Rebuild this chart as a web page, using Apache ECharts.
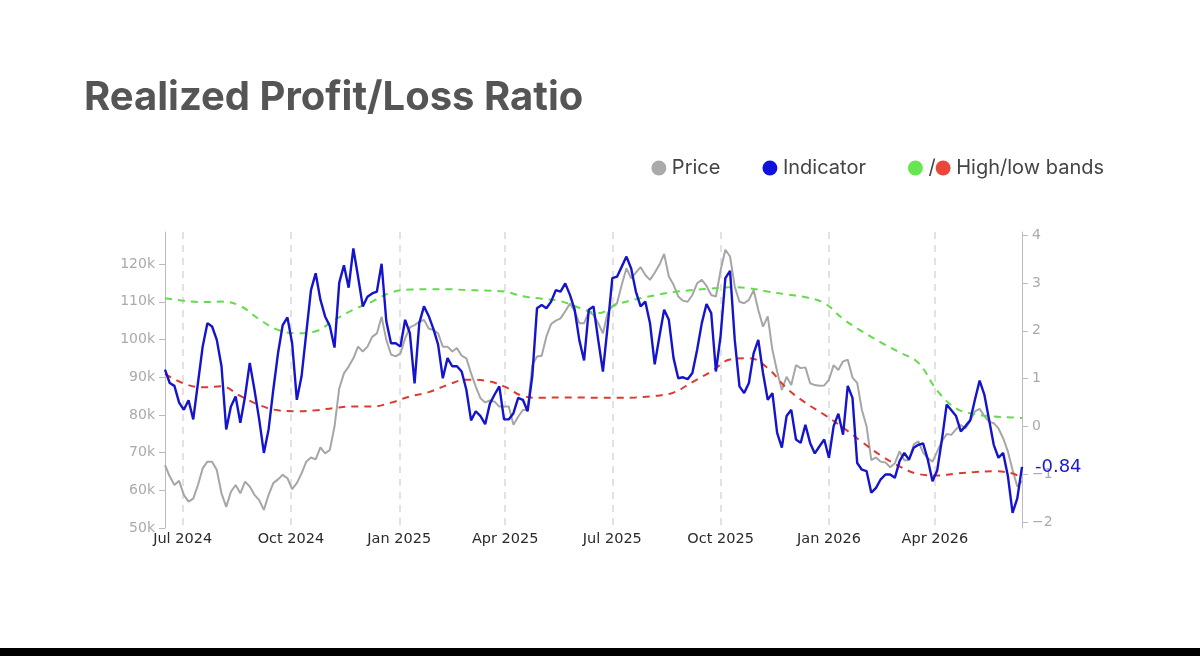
<!DOCTYPE html>
<html>
<head>
<meta charset="utf-8">
<title>Realized Profit/Loss Ratio</title>
<script src="https://cdn.jsdelivr.net/npm/echarts@6/dist/echarts.min.js"></script>
<style>
html, body { margin: 0; padding: 0; background: #fff; }
#main { width: 1200px; height: 656px; }
</style>
</head>
<body>
<div id="main"></div>
<script>
// one point every 4 days, starting 16 Jun 2024
var START = [2024, 5, 16];
var STEP_DAYS = 4;
var BAND_STEP_DAYS = 16;
var LAST_DAY = 728;

// BTC price, in thousands of USD (left axis)
var priceK = [
  66.7, 63.7, 61.4, 62.5, 58.8, 57.0, 57.8, 61.4, 65.8, 67.6,
  67.6, 65.4, 59.2, 55.6, 59.6, 61.4, 59.2, 62.3, 61.0, 58.8,
  57.4, 54.8, 58.8, 61.9, 62.9, 64.1, 63.2, 60.3, 61.9, 64.5,
  67.6, 68.7, 68.2, 71.4, 69.8, 70.7, 76.9, 87.0, 91.0, 92.8,
  95.0, 98.1, 96.8, 98.1, 100.7, 101.6, 106.0, 99.9, 96.0, 95.5,
  96.3, 100.3, 103.2, 103.8, 104.7, 105.2, 102.9, 102.5, 101.6, 98.1,
  98.1, 96.8, 97.7, 95.7, 95.0, 91.0, 87.5, 84.4, 83.3, 83.8,
  83.5, 82.2, 82.2, 82.2, 77.4, 79.5, 81.3, 81.3, 93.2, 95.5,
  95.7, 100.8, 104.1, 105.0, 105.6, 107.5, 109.5, 107.5, 104.3, 104.3,
  107.4, 106.5, 104.3, 101.6, 107.0, 108.9, 109.6, 114.5, 118.9, 116.2,
  117.7, 119.2, 117.1, 115.8, 117.7, 119.8, 122.7, 116.7, 114.5, 111.4,
  110.3, 110.0, 111.8, 114.9, 115.8, 114.2, 111.8, 111.4, 118.4, 123.8,
  122.0, 114.0, 110.0, 109.6, 110.5, 113.1, 107.8, 103.4, 106.1, 97.2,
  91.5, 86.6, 90.1, 87.9, 93.2, 92.4, 92.6, 88.4, 87.9, 87.7,
  87.8, 89.3, 93.2, 91.9, 94.2, 94.6, 89.9, 88.5, 81.3, 76.9,
  68.0, 68.7, 67.6, 67.4, 66.1, 67.2, 70.3, 68.0, 68.0, 72.1,
  73.0, 70.0, 68.5, 67.6, 70.3, 73.0, 74.9, 74.7, 76.2, 77.3,
  76.4, 78.5, 80.9, 81.6, 79.7, 78.2, 77.8, 76.4, 73.8, 70.3,
  65.4, 61.0, 62.5
];

// realized profit/loss ratio indicator (right axis)
var indicator = [
  1.19, 0.91, 0.85, 0.50, 0.35, 0.55, 0.15, 0.91, 1.67, 2.16,
  2.09, 1.81, 1.26, -0.06, 0.42, 0.63, 0.08, 0.63, 1.33, 0.77,
  0.15, -0.55, -0.06, 0.77, 1.53, 2.12, 2.28, 1.74, 0.56, 1.05,
  1.95, 2.85, 3.20, 2.65, 2.30, 2.10, 1.65, 3.00, 3.37, 2.90,
  3.72, 3.13, 2.51, 2.71, 2.78, 2.82, 3.40, 2.20, 1.74, 1.74,
  1.67, 2.23, 1.95, 0.90, 2.16, 2.51, 2.31, 2.04, 1.71, 1.01,
  1.43, 1.26, 1.26, 1.15, 0.77, 0.13, 0.32, 0.22, 0.05, 0.48,
  0.67, 0.84, 0.15, 0.15, 0.28, 0.60, 0.56, 0.32, 1.05, 2.47,
  2.54, 2.47, 2.61, 2.85, 2.82, 2.99, 2.75, 2.44, 1.80, 1.38,
  2.44, 2.51, 1.81, 1.15, 2.09, 3.10, 3.13, 3.34, 3.55, 3.30,
  2.82, 2.51, 2.61, 2.16, 1.30, 1.88, 2.44, 2.23, 1.43, 1.01,
  1.03, 0.99, 1.12, 1.60, 2.16, 2.56, 2.37, 1.15, 1.90, 3.10,
  3.25, 1.81, 0.84, 0.70, 0.91, 1.53, 1.81, 1.12, 0.56, 0.70,
  -0.13, -0.44, 0.22, 0.35, -0.27, -0.34, 0.04, -0.34, -0.56, -0.41,
  -0.27, -0.65, 0.01, 0.27, -0.17, 0.85, 0.60, -0.76, -0.90, -0.93,
  -1.38, -1.28, -1.10, -1.00, -1.00, -1.07, -0.72, -0.55, -0.69, -0.44,
  -0.38, -0.35, -0.69, -1.14, -0.91, -0.27, 0.46, 0.34, 0.22, -0.10,
  0.01, 0.13, 0.56, 0.96, 0.67, 0.15, -0.38, -0.65, -0.55, -1.03,
  -1.80, -1.50, -0.84
];

// high / low bands, one point every 16 days (last one on the final day)
var bandHigh = [
  2.68, 2.63, 2.60, 2.61, 2.52, 2.24, 2.02, 1.95, 1.99, 2.23,
  2.44, 2.61, 2.80, 2.86, 2.87, 2.87, 2.85, 2.84, 2.82, 2.72,
  2.67, 2.62, 2.48, 2.37, 2.55, 2.66, 2.74, 2.81, 2.85, 2.88,
  2.91, 2.89, 2.82, 2.76, 2.70, 2.58, 2.25, 1.99, 1.76, 1.55,
  1.33, 0.75, 0.38, 0.26, 0.21, 0.19, 0.18
];
var bandLow = [
  1.10, 0.90, 0.82, 0.84, 0.64, 0.45, 0.34, 0.32, 0.34, 0.39,
  0.42, 0.42, 0.50, 0.63, 0.72, 0.87, 0.98, 0.96, 0.84, 0.64,
  0.60, 0.61, 0.61, 0.60, 0.60, 0.61, 0.64, 0.71, 0.93, 1.15,
  1.40, 1.43, 1.22, 0.80, 0.50, 0.25, -0.02, -0.32, -0.60, -0.83,
  -0.99, -1.02, -0.98, -0.95, -0.93, -0.98, -1.07
];

var xTickDates = ['2024-07-01', '2024-10-01', '2025-01-01', '2025-04-01',
                  '2025-07-01', '2025-10-01', '2026-01-01', '2026-04-01'];
var leftTicks = [50, 60, 70, 80, 90, 100, 110, 120];
var rightTicks = [-2, -1, 0, 1, 2, 3, 4];
var MONTHS = ['Jan','Feb','Mar','Apr','May','Jun','Jul','Aug','Sep','Oct','Nov','Dec'];

function dayToTime(d) {
  return new Date(START[0], START[1], START[2] + d).getTime();
}
function parseDay(s) {
  var p = s.split('-');
  return new Date(+p[0], +p[1] - 1, +p[2]).getTime();
}
function pairs(values, step) {
  return values.map(function (v, i) {
    return [dayToTime(Math.min(i * step, LAST_DAY)), v];
  });
}

var xTicks = xTickDates.map(parseDay);
var FONT_AXIS = 'DejaVu Sans';
var FONT_UI = 'Inter';

var myChart = echarts.init(document.getElementById('main'));

var option = {
  animation: false,
  backgroundColor: '#ffffff',
  title: {
    text: 'Realized Profit/Loss Ratio',
    left: 79,
    top: 73,
    textStyle: { fontFamily: FONT_UI, fontWeight: 'bold', fontSize: 40, color: '#555555' }
  },
  legend: {
    top: 153,
    right: 91,
    icon: 'circle',
    itemWidth: 16,
    itemHeight: 15,
    itemGap: 42,
    itemStyle: { borderWidth: 0 },
    textStyle: {
      fontFamily: FONT_UI, fontSize: 20, color: '#444444',
      rich: { r: { width: 15, height: 15, borderRadius: 7.5, backgroundColor: '#e8473a' } }
    },
    data: ['Price', 'Indicator', 'High band'],
    formatter: function (name) {
      return name === 'High band' ? '/{r| } High/low bands' : name;
    }
  },
  graphic: [{
    type: 'rect', left: 0, top: 648, silent: true,
    shape: { width: 1200, height: 8 },
    style: { fill: '#000000' }
  }],
  grid: { left: 165, right: 178, top: 232, bottom: 128 },
  // dates are plain timestamps on a value axis so that the quarter ticks can be fixed
  xAxis: {
    type: 'value',
    min: dayToTime(0),
    max: dayToTime(LAST_DAY),
    axisLine: { show: false },
    axisTick: { show: false, customValues: xTicks },
    axisLabel: {
      customValues: xTicks,
      color: '#2a2a2a', fontFamily: FONT_AXIS, fontSize: 14.5, margin: 4,
      hideOverlap: false,
      formatter: function (v) {
        var d = new Date(v);
        return MONTHS[d.getMonth()] + ' ' + d.getFullYear();
      }
    },
    splitLine: { show: true, lineStyle: { color: '#d9d9d9', width: 1.5, type: [7, 6] } }
  },
  yAxis: [{
    type: 'value',
    position: 'left',
    min: 50,
    max: 128.5,
    axisLine: { show: true, lineStyle: { color: '#bbbbbb' } },
    axisTick: { show: true, length: 6, customValues: leftTicks, lineStyle: { color: '#bbbbbb' } },
    axisLabel: {
      customValues: leftTicks, color: '#aaaaaa', fontFamily: FONT_AXIS, fontSize: 14, margin: 10,
      formatter: function (v) { return v + 'k'; }
    },
    splitLine: { show: false }
  }, {
    type: 'value',
    position: 'right',
    min: -2.117,
    max: 4.063,
    axisLine: { show: true, lineStyle: { color: '#bbbbbb' } },
    axisTick: { show: true, length: 6, customValues: rightTicks, lineStyle: { color: '#bbbbbb' } },
    axisLabel: {
      customValues: rightTicks, color: '#aaaaaa', fontFamily: FONT_AXIS, fontSize: 14, margin: 10,
      formatter: function (v) { return String(v).replace('-', '\u2212'); }
    },
    splitLine: { show: false }
  }],
  series: [{
    name: 'Price',
    type: 'line',
    yAxisIndex: 0,
    showSymbol: false,
    data: pairs(priceK, STEP_DAYS),
    itemStyle: { color: '#aaaaaa' },
    lineStyle: { color: '#a6a6a6', width: 2 }
  }, {
    name: 'High band',
    type: 'line',
    yAxisIndex: 1,
    showSymbol: false,
    smooth: 0.4,
    data: pairs(bandHigh, BAND_STEP_DAYS),
    itemStyle: { color: '#66e651' },
    lineStyle: { color: '#62dc4a', width: 2, type: [7, 6] }
  }, {
    name: 'Low band',
    type: 'line',
    yAxisIndex: 1,
    showSymbol: false,
    smooth: 0.4,
    data: pairs(bandLow, BAND_STEP_DAYS),
    itemStyle: { color: '#e8473a' },
    lineStyle: { color: '#dc3b30', width: 2, type: [7, 6] }
  }, {
    name: 'Indicator',
    type: 'line',
    yAxisIndex: 1,
    showSymbol: false,
    data: pairs(indicator, STEP_DAYS),
    itemStyle: { color: '#1111dd' },
    lineStyle: { color: '#1414cc', width: 2.4 },
    endLabel: {
      show: true,
      distance: 13,
      color: '#1a1acc',
      fontFamily: FONT_AXIS,
      fontSize: 18,
      formatter: function (p) { return p.value[1].toFixed(2); }
    }
  }]
};
myChart.setOption(option);
</script>
</body>
</html>
